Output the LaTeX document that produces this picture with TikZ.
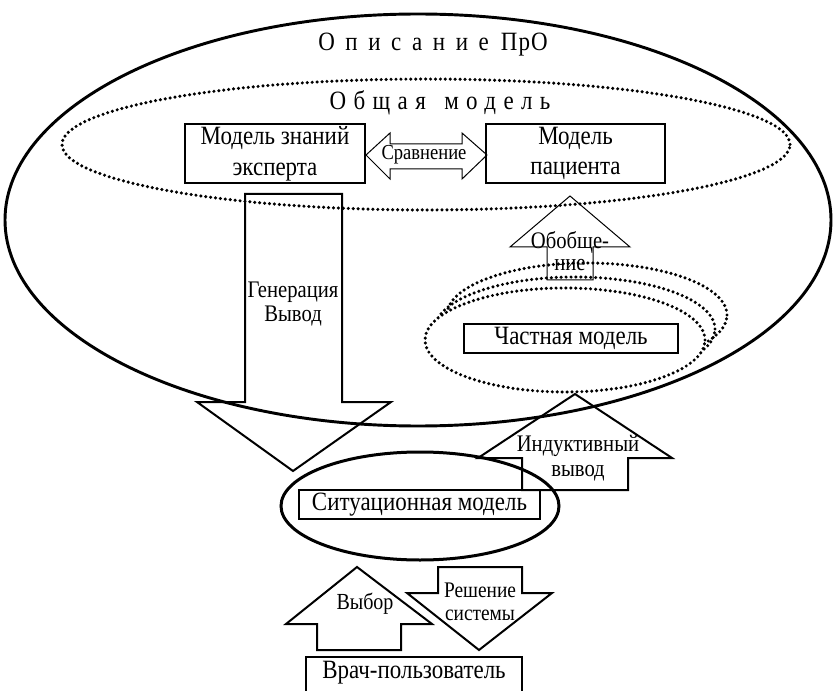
\documentclass[tikz,border=0pt]{standalone}
\usepackage{fontspec}
\setmainfont[FakeStretch=0.87]{Liberation Serif}
\begin{document}
\begin{tikzpicture}[x=0.75pt, y=-0.75pt,
  box/.style={draw, line width=0.8pt, rectangle, inner sep=0pt, align=center, font=\fontsize{19.8}{23}\selectfont},
  dots/.style={line width=2.6pt, line cap=round, dash pattern=on 0pt off 3.7pt},
  big/.style={font=\fontsize{19.8}{23}\selectfont, inner sep=0pt},
  small/.style={font=\fontsize{17.25}{19}\selectfont, align=center, inner sep=0pt},
  thin arrow/.style={draw, line width=0.75pt, line join=miter},
  thick arrow/.style={draw, line width=1.5pt, line join=miter}]
  \clip (0,0) rectangle (834,691);

  % general model
  \draw[dots] (426,144.5) ellipse [x radius=273pt, y radius=49.1pt];
  \node[big] (title) at (433,45) {{\addfontfeatures{LetterSpace=40}Описание}\hspace{9pt}{\addfontfeatures{LetterSpace=4}ПрО}};
  \node[big] (general) at (440,103) {\addfontfeatures{LetterSpace=28}Общая\hspace{4pt} модель};

  \node[box, minimum width=135pt, minimum height=44.25pt] (expert) at (275,153.5) {Модель знаний\\эксперта};
  \node[box, minimum width=134.25pt, minimum height=44.25pt] (patient) at (575.5,153.5) {Модель\\пациента};

  % comparison
  \draw[thin arrow] (366,155) -- (390,133) -- (390,144) -- (462,144) -- (462,133) -- (487,155)
    -- (462,179) -- (462,169) -- (390,169) -- (390,179) -- cycle;
  \node[small, font=\fontsize{16}{18}\selectfont] (compare) at (424,155) {Сравнение};

  % generation
  \draw[thick arrow] (245,194) -- (342,194) -- (342,402) -- (391,402) -- (293,471) -- (197,402) -- (245,402) -- cycle;
  \node[small, font=\fontsize{17.8}{18.5}\selectfont] (gen) at (293,304) {Генерация\\Вывод};

  % generalisation
  \draw[thin arrow] (570,196) -- (630,247) -- (593,247) -- (593,280) -- (547,280) -- (547,247) -- (510,247) -- cycle;
  \node[small, font=\fontsize{17.8}{16.5}\selectfont] (gener) at (570,251) {Обобще-\\ние};

  % partial model
  \draw[dots] (587,315) ellipse [x radius=105pt, y radius=39pt];
  \draw[dots] (575,329) ellipse [x radius=105pt, y radius=39pt];
  \draw[dots, fill=white] (565,340) ellipse [x radius=105pt, y radius=39pt];
  \node[box, minimum width=160.5pt, minimum height=21.75pt] (partial) at (571,338.5) {Частная модель};

  % domain description
  \draw[line width=2.2pt] (418,220) ellipse [x radius=309.75pt, y radius=154.5pt];

  % induction
  \draw[thick arrow] (575,394) -- (672,458) -- (628,458) -- (628,490) -- (522,490) -- (522,458) -- (478,458) -- cycle;
  \node[small, font=\fontsize{17.8}{19}\selectfont] (induct) at (578,458) {Индуктивный\\вывод};

  % situational model
  \draw[line width=2.25pt] (420,506) ellipse [x radius=104.25pt, y radius=40.5pt];
  \node[box, minimum width=180.75pt, minimum height=21.75pt] (situation) at (419.5,504.5) {Ситуационная модель};

  % user
  \draw[thick arrow] (357,567) -- (432,624) -- (401,624) -- (401,650) -- (317,650) -- (317,624) -- (286,624) -- cycle;
  \node[small] (choice) at (365,604) {Выбор};
  \draw[thick arrow] (438,567) -- (522,567) -- (522,593) -- (552,593) -- (479,650) -- (407,593) -- (438,593) -- cycle;
  \node[small, font=\fontsize{16.7}{17.5}\selectfont] (decision) at (480,602) {Решение\\системы};

  \draw[line width=0.8pt] (306,657) rectangle (522,705);
  \node[big] (user) at (414,673) {Врач-пользователь};
\end{tikzpicture}
\end{document}
